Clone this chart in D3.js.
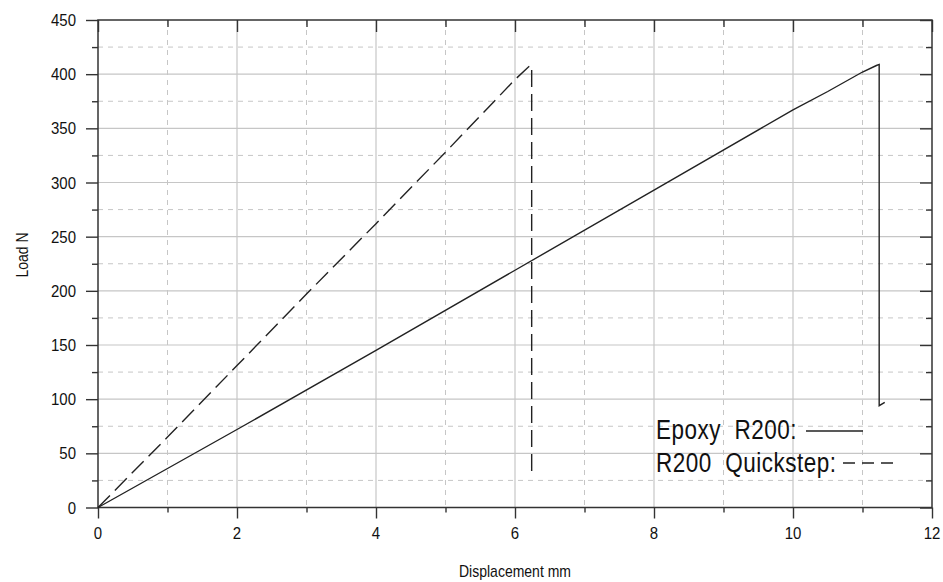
<!DOCTYPE html>
<html><head><meta charset="utf-8">
<script src="https://cdn.jsdelivr.net/npm/d3@7/dist/d3.min.js"></script>
<style>body{margin:0;background:#fff}svg{display:block}text{font-family:"Liberation Sans",Arial,sans-serif;fill:#111;white-space:pre}</style>
</head><body><svg id="c" width="943" height="582"></svg>
<script>
const xTicks = [0,2,4,6,8,10,12];
const yTicks = [0,50,100,150,200,250,300,350,400,450];
const xMinor = [1,3,5,7,9,11];
const yMinor = [25,75,125,175,225,275,325,375,425];
const epoxyX = [0,1,2,4,6,8,10,10.5,11,11.2,11.24,11.24,11.32];
const epoxyY = [0,36,72,145,219,293,367,384,402,408,409,94,97];
const quickX = [0,1,2,3,4,5,6,6.2,6.24,6.24,6.28];
const quickY = [0,65,131,197,262,328,395,407,408,32,36];
const seriesNames = ["Epoxy  R200:", "R200  Quickstep:"];
const xLabel = "Displacement mm", yLabel = "Load N";

const svg = d3.select("#c");
const L=98, R=932, T=20, B=507.5;
const x = d3.scaleLinear().domain([0,12]).range([L,R]);
const y = d3.scaleLinear().domain([0,450]).range([B,T]);
const grid = "#c6c6c6", axc = "#333";

function txt(s, px, py, size, anchor, sy, rot, ls){
  const g = svg.append("g").attr("transform",`translate(${px},${py})${rot?` rotate(${rot})`:""} scale(1,${sy})`);
  g.append("text").attr("text-anchor",anchor).attr("font-size",size)
    .attr("letter-spacing", ls||0).attr("xml:space","preserve").text(s);
}

// grid
svg.append("g").selectAll("line").data(xMinor).join("line")
  .attr("x1",d=>x(d)).attr("x2",d=>x(d)).attr("y1",T).attr("y2",B)
  .attr("stroke",grid).attr("stroke-width",1).attr("stroke-dasharray","5,5");
svg.append("g").selectAll("line").data(yMinor).join("line")
  .attr("y1",d=>y(d)).attr("y2",d=>y(d)).attr("x1",L).attr("x2",R)
  .attr("stroke",grid).attr("stroke-width",1).attr("stroke-dasharray","5,5");
svg.append("g").selectAll("line").data(xTicks.slice(1,-1)).join("line")
  .attr("x1",d=>x(d)).attr("x2",d=>x(d)).attr("y1",T).attr("y2",B)
  .attr("stroke",grid).attr("stroke-width",1.2);
svg.append("g").selectAll("line").data(yTicks.slice(1,-1)).join("line")
  .attr("y1",d=>y(d)).attr("y2",d=>y(d)).attr("x1",L).attr("x2",R)
  .attr("stroke",grid).attr("stroke-width",1.2);

// axes with d3 axis generators
function styleAx(g){ g.select(".domain").remove(); g.selectAll("line").attr("stroke",axc).attr("stroke-width",1.4); g.selectAll("text").remove(); }
svg.append("g").attr("transform",`translate(0,${B})`).call(d3.axisBottom(x).tickValues(xTicks).tickSize(11)).call(styleAx);
svg.append("g").attr("transform",`translate(0,${B})`).call(d3.axisBottom(x).tickValues(xMinor).tickSize(5)).call(styleAx);
svg.append("g").attr("transform",`translate(0,${T})`).call(d3.axisBottom(x).tickValues(xTicks).tickSize(12)).call(styleAx);
svg.append("g").attr("transform",`translate(0,${T})`).call(d3.axisBottom(x).tickValues(xMinor).tickSize(7)).call(styleAx);
svg.append("g").attr("transform",`translate(${L},0)`).call(d3.axisLeft(y).tickValues(yTicks).tickSize(12)).call(styleAx);
svg.append("g").attr("transform",`translate(${L},0)`).call(d3.axisLeft(y).tickValues(yMinor).tickSize(6)).call(styleAx);
svg.append("g").attr("transform",`translate(${R},0)`).call(d3.axisLeft(y).tickValues(yTicks).tickSize(12)).call(styleAx);
svg.append("g").attr("transform",`translate(${R},0)`).call(d3.axisLeft(y).tickValues(yMinor).tickSize(6)).call(styleAx);
svg.append("rect").attr("x",L).attr("y",T).attr("width",R-L).attr("height",B-T)
  .attr("fill","none").attr("stroke",axc).attr("stroke-width",1.5);

// tick labels
xTicks.forEach(v=>txt(String(v), x(v), 539, 15, "middle", 1.15));
yTicks.forEach(v=>txt(String(v), 76, y(v)+6, 15, "end", 1.15));

// axis titles
txt(xLabel, 515, 577, 14, "middle", 1.15);
txt(yLabel, 28, 255, 14, "middle", 1.15, -90);

// series
const line = d3.line().x(d=>x(d[0])).y(d=>y(d[1]));
svg.append("path").datum(epoxyX.map((v,i)=>[v,epoxyY[i]])).attr("d",line)
  .attr("fill","none").attr("stroke","#222").attr("stroke-width",1.4);
svg.append("path").datum(quickX.map((v,i)=>[v,quickY[i]])).attr("d",line)
  .attr("fill","none").attr("stroke","#222").attr("stroke-width",1.4).attr("stroke-dasharray","17,7");

// legend
txt(seriesNames[0], 656, 439, 22.5, "start", 1.2, 0, 0.5);
txt(seriesNames[1], 656, 472, 22.5, "start", 1.2, 0, 0.5);
svg.append("line").attr("x1",806).attr("x2",863).attr("y1",431).attr("y2",431).attr("stroke","#222").attr("stroke-width",1.5);
svg.append("line").attr("x1",843).attr("x2",897).attr("y1",463).attr("y2",463).attr("stroke","#222").attr("stroke-width",1.5).attr("stroke-dasharray","12,7");
</script></body></html>
